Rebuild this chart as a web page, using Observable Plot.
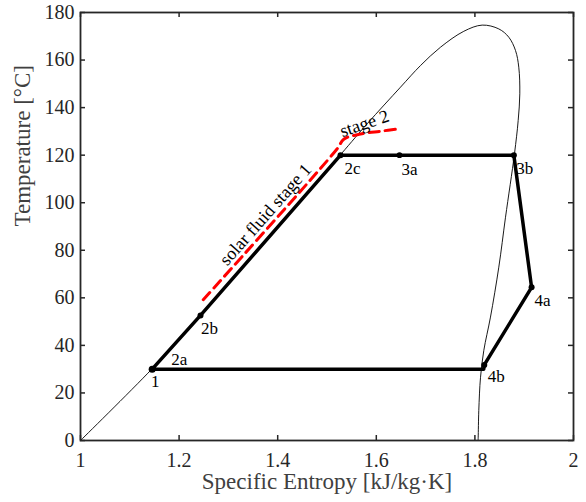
<!DOCTYPE html>
<html><head><meta charset="utf-8">
<script src="https://cdn.jsdelivr.net/npm/d3@7"></script>
<script src="https://cdn.jsdelivr.net/npm/@observablehq/plot@0.6"></script>
<style>body{margin:0;background:#fff}</style>
</head><body><div id="chart"></div>
<script>
// Saturation dome (entropy kJ/kg·K, temperature °C)
const domeS = [1.0, 1.1454, 1.2434, 1.5274, 1.5815, 1.6491, 1.6897, 1.7302, 1.7775, 1.8148, 1.8485, 1.8688, 1.8824, 1.8890, 1.8911, 1.8878, 1.8803, 1.8621, 1.8485, 1.8316, 1.8181, 1.8114, 1.8079, 1.8067, 1.8065];
const domeT = [0, 30.2, 52.6, 120.2, 133.2, 148.6, 157.7, 165.4, 172.1, 174.7, 173.1, 169.6, 164.0, 157.0, 145.8, 134.6, 120.6, 93.9, 72.9, 51.9, 37.9, 26.6, 12.6, 1.4, 0];

// ORC cycle path
const cycleS = [1.1454, 1.2434, 1.5274, 1.647, 1.879, 1.915, 1.819, 1.818, 1.1454];
const cycleT = [30, 52.6, 120, 120, 120, 64.4, 31.8, 30, 30];

// Solar fluid (red dashed)
const solarS = [1.249, 1.5207, 1.534, 1.568, 1.61, 1.6456];
const solarT = [59.2, 122.7, 126.7, 128.9, 130.1, 131.1];

// State points
const pointNames = ["1", "2a", "2b", "2c", "3a", "3b", "4a", "4b"];
const pointS = [1.1454, 1.1454, 1.2434, 1.5274, 1.647, 1.879, 1.915, 1.819];
const pointT = [30, 30, 52.6, 120, 120, 120, 64.4, 31.8];

// Annotations
const noteTexts = ["solar fluid stage 1", "stage 2"];
const noteS = [1.3753, 1.576];
const noteT = [95.0, 133.3];

const xTicks = [1, 1.2, 1.4, 1.6, 1.8, 2];
const yTicks = [0, 20, 40, 60, 80, 100, 120, 140, 160, 180];
const xLabel = "Specific Entropy [kJ/kg·K]";
const yLabel = "Temperature [°C]";

// styling (offsets in px, radii)
const labelOffset = {"1": [3, 12], "2a": [27, -10], "2b": [9, 13], "2c": [12, 13], "3a": [10, 14], "3b": [11, 13], "4a": [11, 13], "4b": [12, 12]};
const dotR = {"1": 4.5, "2a": 0, "2b": 3.3, "2c": 3.3, "3a": 3, "3b": 3.3, "4a": 3.3, "4b": 3.3};
const noteRotate = [-48.6, -19];

const dome = domeS.map((s, i) => ({s, T: domeT[i]}));
const cycle = cycleS.map((s, i) => ({s, T: cycleT[i]}));
const solar = solarS.map((s, i) => ({s, T: solarT[i]}));
const points = pointNames.map((n, i) => ({n, s: pointS[i], T: pointT[i]}));
const notes = noteTexts.map((t, i) => ({t, s: noteS[i], T: noteT[i], r: noteRotate[i]}));

const W = 586, H = 502, mL = 80, mR = 13, mT = 12, mB = 62;
const innerH = H - mT - mB, innerW = W - mL - mR;
const tickLen = 5;
const ink = "#262626";

const marks = [
  Plot.line(dome, {x: "s", y: "T", stroke: "black", strokeWidth: 0.9, curve: "catmull-rom"}),
  Plot.line(solar, {x: "s", y: "T", stroke: "#ff0000", strokeWidth: 3, strokeDasharray: "10,6", curve: "catmull-rom"}),
  Plot.line(cycle, {x: "s", y: "T", stroke: "black", strokeWidth: 3.5, strokeLinejoin: "round"}),
  Plot.dot(points.filter(p => dotR[p.n] > 0), {x: "s", y: "T", r: p => dotR[p.n], fill: "black", stroke: null}),
  ...points.map(p => Plot.text([p], {x: "s", y: "T", text: "n", dx: labelOffset[p.n][0], dy: labelOffset[p.n][1], fontSize: 17, fill: "black"})),
  ...notes.map(nt => Plot.text([nt], {x: "s", y: "T", text: "t", rotate: nt.r, fontSize: 18, fill: "black"})),
  Plot.frame({stroke: ink, strokeWidth: 1.8}),
  Plot.tickX(xTicks, {x: d => d, insetTop: innerH - tickLen, stroke: ink, strokeWidth: 1.5}),
  Plot.tickX(xTicks, {x: d => d, insetBottom: innerH - tickLen, stroke: ink, strokeWidth: 1.5}),
  Plot.tickY(yTicks, {y: d => d, insetRight: innerW - tickLen, stroke: ink, strokeWidth: 1.5}),
  Plot.tickY(yTicks, {y: d => d, insetLeft: innerW - tickLen, stroke: ink, strokeWidth: 1.5}),
  Plot.axisX(xTicks, {anchor: "bottom", tickSize: 0, tickPadding: 12, tickFormat: d => String(d), fontSize: 20, fill: ink, label: null}),
  Plot.axisY(yTicks, {anchor: "left", tickSize: 0, tickPadding: 6, tickFormat: d => String(d), fontSize: 20, fill: ink, label: null}),
  Plot.text([xLabel], {frameAnchor: "bottom", text: d => d, dy: 48, fontSize: 23, fill: "#404040"}),
  Plot.text([yLabel], {frameAnchor: "left", text: d => d, dx: -58, rotate: -90, fontSize: 23, fill: "#404040"})
];

const chart = Plot.plot({
  width: W, height: H,
  marginLeft: mL, marginRight: mR, marginTop: mT, marginBottom: mB,
  x: {domain: [1, 2], axis: null},
  y: {domain: [0, 180], axis: null},
  style: {fontFamily: "'Liberation Serif', 'Times New Roman', serif", background: "white", overflow: "visible"},
  marks
});
document.getElementById("chart").appendChild(chart);
</script>
</body></html>
